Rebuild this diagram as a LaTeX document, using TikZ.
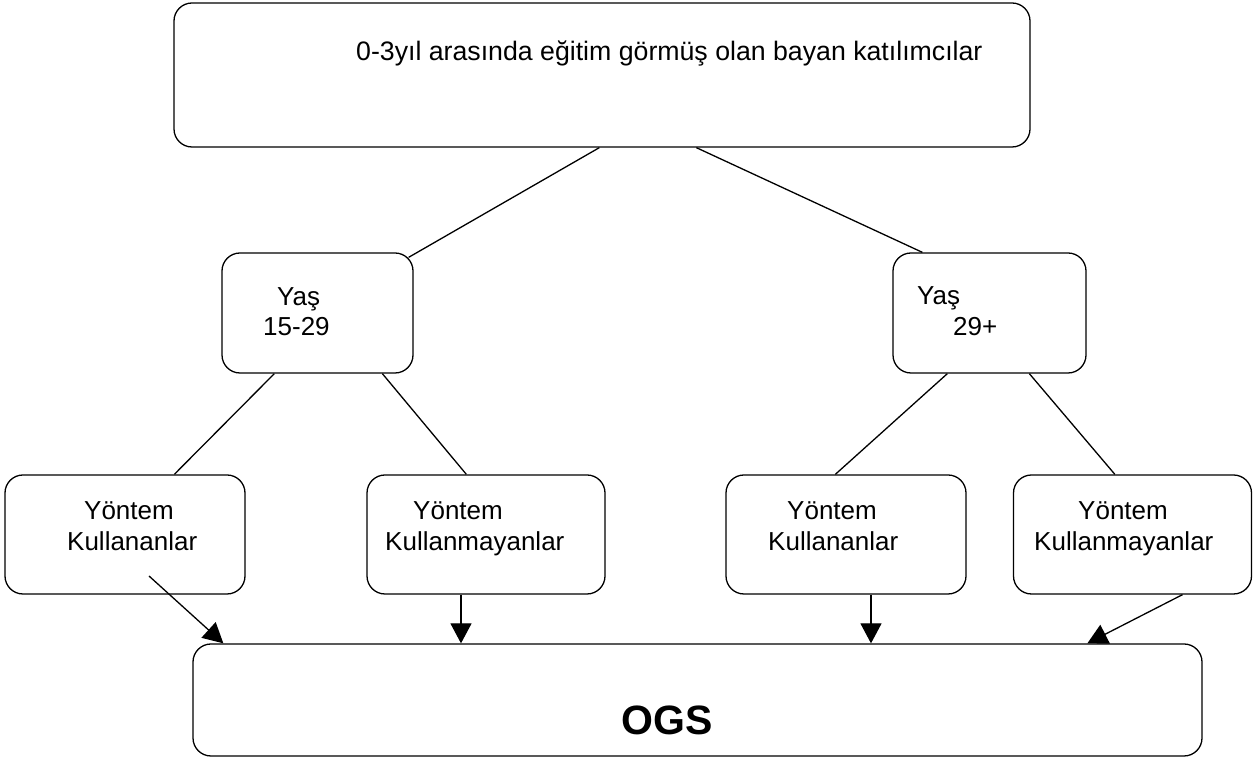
\documentclass[tikz,border=0pt]{standalone}
\usepackage{fontspec}
\setmainfont{Liberation Sans}
\usetikzlibrary{arrows.meta}
\begin{document}
\begin{tikzpicture}[x=1pt,y=1pt,
  box/.style={draw,line width=1.3pt,rounded corners=18pt,inner sep=0pt,fill=none},
  txt/.style={anchor=base west,inner sep=0pt,font=\fontsize{26}{31}\selectfont},
  conn/.style={line width=1.3pt},
  arr/.style={line width=1.3pt,-{Triangle[length=20pt,width=21pt]}}]
\useasboundingbox (0,0) rectangle (1254,760);
% boxes
\node[box,minimum width=856pt,minimum height=144pt] (top) at (602,685) {};
\node[box,minimum width=191pt,minimum height=120pt] (y1) at (317.5,447) {};
\node[box,minimum width=193pt,minimum height=120pt] (y2) at (989.5,447) {};
\node[box,minimum width=240pt,minimum height=119pt] (b1) at (125,225.5) {};
\node[box,minimum width=238pt,minimum height=119pt] (b2) at (486,225.5) {};
\node[box,minimum width=240pt,minimum height=119pt] (b3) at (846,225.5) {};
\node[box,minimum width=238pt,minimum height=119pt] (b4) at (1132.5,225.5) {};
\node[box,minimum width=1009pt,minimum height=112pt] (ogs) at (697.5,60) {};
% texts
\node[txt,font=\fontsize{26.7}{31}\selectfont] (ttop) at (356,699) {0-3yıl arasında eğitim görmüş olan bayan katılımcılar};
\node[txt] (ty1a) at (277,454) {Yaş};
\node[txt] (ty1b) at (263,424) {15-29};
\node[txt] (ty2a) at (917,455) {Yaş};
\node[txt] (ty2b) at (953,424) {29+};
\node[txt] (tb1a) at (84,240) {Yöntem};
\node[txt] (tb1b) at (67,209) {Kullananlar};
\node[txt] (tb2a) at (413,240) {Yöntem};
\node[txt] (tb2b) at (385,209) {Kullanmayanlar};
\node[txt] (tb3a) at (787,240) {Yöntem};
\node[txt] (tb3b) at (768,209) {Kullananlar};
\node[txt] (tb4a) at (1078,240) {Yöntem};
\node[txt] (tb4b) at (1034,209) {Kullanmayanlar};
\node[anchor=base west,inner sep=0pt,font=\fontsize{41}{48}\selectfont\bfseries] (togs) at (621,25) {OGS};
% connectors
\draw[conn] ([xshift=426pt]top.south west) -- ([xshift=-5pt,yshift=-5pt]y1.north east);
\draw[conn] ([xshift=523pt]top.south west) -- ([xshift=30pt]y2.north west);
\draw[conn] ([xshift=53pt]y1.south west) -- ([xshift=170pt]b1.north west);
\draw[conn] ([xshift=161pt]y1.south west) -- ([xshift=100pt]b2.north west);
\draw[conn] ([xshift=55pt]y2.south west) -- ([xshift=110pt]b3.north west);
\draw[conn] ([xshift=137pt]y2.south west) -- ([xshift=102pt]b4.north west);
% arrows
\draw[arr] ([xshift=24pt,yshift=-41.5pt]b1.center) -- ([xshift=31pt]ogs.north west);
\draw[arr] ([xshift=-25pt]b2.south) -- ([xshift=-25pt]b2.south |- ogs.north);
\draw[arr] ([xshift=25pt]b3.south) -- ([xshift=25pt]b3.south |- ogs.north);
\draw[arr] ([xshift=50pt]b4.south) -- ([xshift=895pt]ogs.north west);
\end{tikzpicture}
\end{document}
